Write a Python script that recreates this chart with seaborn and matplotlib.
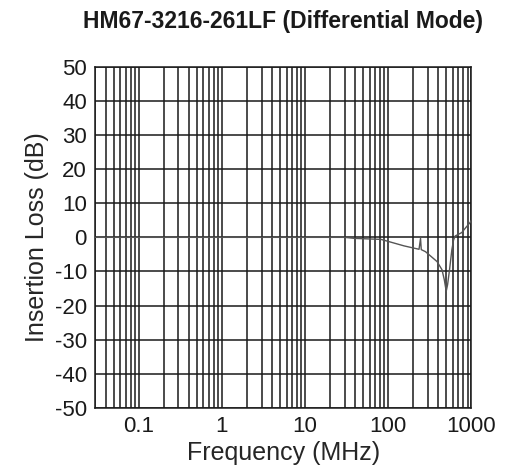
"""Insertion loss curve, HM67-3216-261LF differential mode."""

import matplotlib
matplotlib.use("Agg")
import matplotlib.pyplot as plt
import seaborn as sns
import pandas as pd
import numpy as np
from matplotlib.ticker import FixedLocator, LogLocator, NullFormatter

# data
freq_mhz = [0.03, 1.0, 10.0, 30, 39, 82, 97, 155, 235, 245, 250, 281, 387, 444,
            473, 499, 518, 547, 583, 611, 640, 768, 841, 964, 1000]
loss_db = [0.0, 0.0, 0.0, 0.0, -0.3, -0.6, -1.1, -2.5, -3.5, -0.3, -3.6, -4.2,
           -7.1, -9.5, -12.4, -15.8, -13.9, -9.5, -3.7, -0.8, 0.4, 1.4, 2.6,
           4.3, 5.0]

x_ticks = [0.1, 1, 10, 100, 1000]
x_tick_labels = ["0.1", "1", "10", "100", "1000"]
y_ticks = list(range(-50, 51, 10))

sns.set_style("white")
plt.rcParams['font.family'] = ['Liberation Sans', 'DejaVu Sans']
plt.rcParams['axes.unicode_minus'] = False

df = pd.DataFrame({"Frequency (MHz)": freq_mhz, "Insertion Loss (dB)": loss_db})

fig, ax = plt.subplots(figsize=(5.16, 4.71), dpi=100)
fig.subplots_adjust(left=0.1847, right=0.9134, top=0.8584, bottom=0.1338)

ax.set_xscale("log")
ax.set_xlim(0.03, 1000)
ax.set_ylim(-50, 50)

# grid first so the curve sits on top
ax.xaxis.set_major_locator(FixedLocator(x_ticks))
ax.xaxis.set_minor_locator(LogLocator(base=10, subs=np.arange(2, 10)))
ax.xaxis.set_minor_formatter(NullFormatter())
ax.set_xticklabels(x_tick_labels)
ax.set_yticks(y_ticks)
ax.grid(which="both", axis="x", color="#1a1a1a", linewidth=1.1)
ax.grid(which="major", axis="y", color="#1a1a1a", linewidth=1.1)
ax.set_axisbelow(True)

sns.lineplot(data=df, x="Frequency (MHz)", y="Insertion Loss (dB)", ax=ax,
             color="#555555", linewidth=1.0, zorder=3)

for s in ax.spines.values():
    s.set_color("#1a1a1a")
    s.set_linewidth(1.1)

ax.tick_params(axis="both", which="both", length=0, labelsize=16, pad=6,
               colors="#1a1a1a")
ax.set_xlabel("Frequency (MHz)", fontsize=18, labelpad=3)
ax.set_ylabel("Insertion Loss (dB)", fontsize=18, labelpad=4)

fig.text(0.549, 0.955, "HM67-3216-261LF (Differential Mode)", ha="center",
         va="center", fontsize=16.5, fontweight="bold", color="#1a1a1a")

fig.savefig("out.png", dpi=100)
